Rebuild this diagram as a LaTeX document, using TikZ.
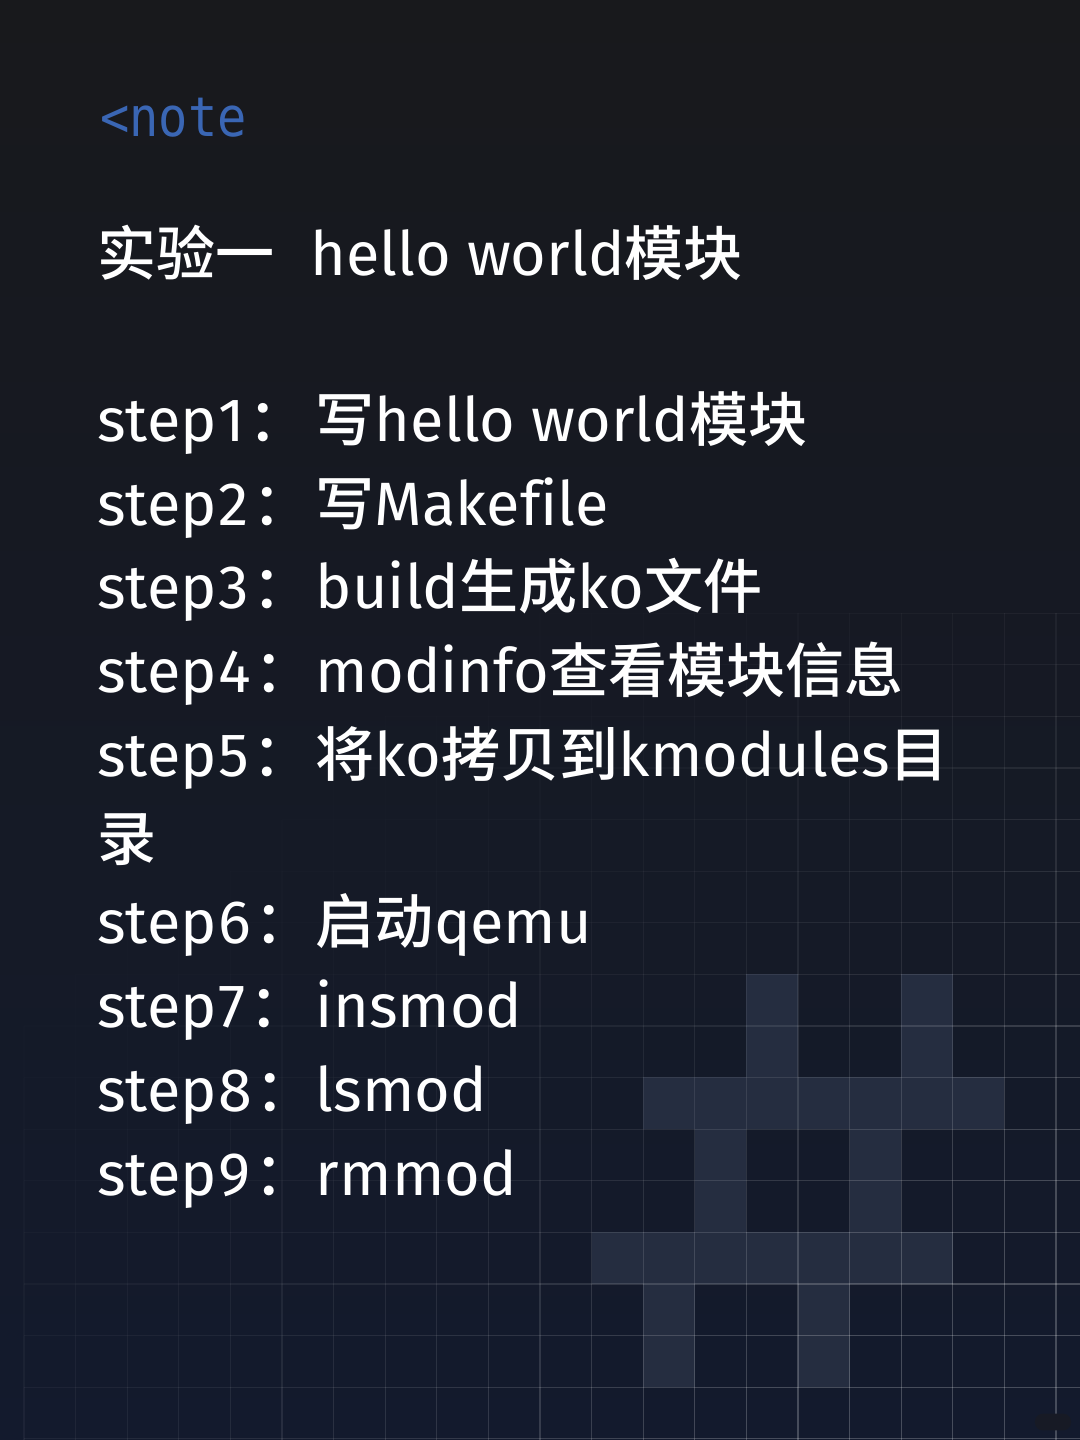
\documentclass[tikz,border=0pt]{standalone}
\usepackage{fontspec}
\setmainfont[RawFeature=-liga]{Fira Sans}
\setmonofont{DejaVu Sans Mono}
\newfontfamily\cjk[Scale=0.965, UprightFont=* Medium]{Noto Sans CJK SC}
\usetikzlibrary{positioning}
\definecolor{bg_top}{HTML}{18191C}
\definecolor{bg_mid}{HTML}{161A25}
\definecolor{bg_low}{HTML}{131A2D}
\definecolor{cell_fill}{HTML}{252D40}
\definecolor{note_blue}{HTML}{3A66B4}
\definecolor{mark_fill}{HTML}{262B3A}
\definecolor{mark_text}{HTML}{171A25}
\tikzset{
  text_line/.style = {anchor=base west, inner sep=0pt, white, font=\fontsize{45.9}{50}\selectfont},
  note_tag/.style = {anchor=base west, inner sep=0pt, note_blue, font=\fontsize{41}{44}\selectfont\ttfamily},
  grid_seg/.style = {white, line width=0.9pt},
  pixel_cell/.style = {fill=cell_fill, draw=none},
  mark_pill/.style = {fill=mark_fill, rounded corners=6pt, inner xsep=2pt, inner ysep=0pt, minimum height=12.5pt, mark_text, font=\fontsize{8}{9}\selectfont\cjk},
}
\newcommand{\zh}[1]{{\cjk #1}}
\newcommand{\steplabel}[1]{\makebox[164pt][l]{step\hspace{1.5pt}#1\hspace{2.5pt}\zh{：}}}

\begin{document}
\begin{tikzpicture}[x=0.75pt, y=-0.75pt]
  \useasboundingbox (0,0) rectangle (1080,1440);
  \fill [top color=bg_top, middle color=bg_mid, bottom color=bg_low] (0,0) rectangle (1080,1440);

  \foreach \col/\row in {14/0, 17/0, 14/1, 17/1,
      12/2, 13/2, 14/2, 15/2, 16/2, 17/2, 18/2,
      13/3, 16/3, 13/4, 16/4,
      11/5, 12/5, 13/5, 14/5, 15/5, 16/5, 17/5,
      12/6, 15/6, 12/7, 15/7} {
    \fill [pixel_cell] ({24+51.6*\col},{974+51.6*\row}) rectangle ++(51.6,51.6);
  }

  \foreach \col in {0,...,20} {
    \foreach \row in {-8,...,8} {
      \pgfmathsetmacro{\gx}{24+51.6*\col}
      \pgfmathsetmacro{\gy}{1026+51.6*\row}
      \pgfmathsetmacro{\gf}{max(0, \gx/2160+(\gy-600)/1680)}
      \pgfmathsetmacro{\gop}{min(0.22, 0.4*\gf*\gf*\gf)}
      \draw [grid_seg, opacity=\gop] (\gx,\gy) -- ++(0,51.6);
      \draw [grid_seg, opacity=\gop] (\gx,\gy) -- ++(51.6,0);
    }
  }

  \node [note_tag] (note) at (100,136) {\scalebox{0.89}[1]{<note}};
  \node [text_line] (title) at (97,275) {\zh{实验一}\hspace{27pt}hello world\zh{模块}};
  \node [text_line] (step1) at (97,441) {\steplabel{1}\zh{写}hello world\zh{模块}};
  \node [text_line] (step2) at (97,525) {\steplabel{2}\zh{写}Makefile};
  \node [text_line] (step3) at (97,608) {\steplabel{3}build\zh{生成}ko\zh{文件}};
  \node [text_line] (step4) at (97,692) {\steplabel{4}modinfo\zh{查看模块信息}};
  \node [text_line] (step5) at (97,776) {\steplabel{5}\zh{将}ko\zh{拷贝到}kmodules\zh{目}};
  \node [text_line] (step5b) at (97,860) {\zh{录}};
  \node [text_line] (step6) at (97,943) {\steplabel{6}\zh{启动}qemu};
  \node [text_line] (step7) at (97,1027) {\steplabel{7}insmod};
  \node [text_line] (step8) at (97,1111) {\steplabel{8}lsmod};
  \node [text_line] (step9) at (97,1195) {\steplabel{9}rmmod};

  \node [mark_pill] (mark) at (1053,1422) {小红书};
\end{tikzpicture}
\end{document}
